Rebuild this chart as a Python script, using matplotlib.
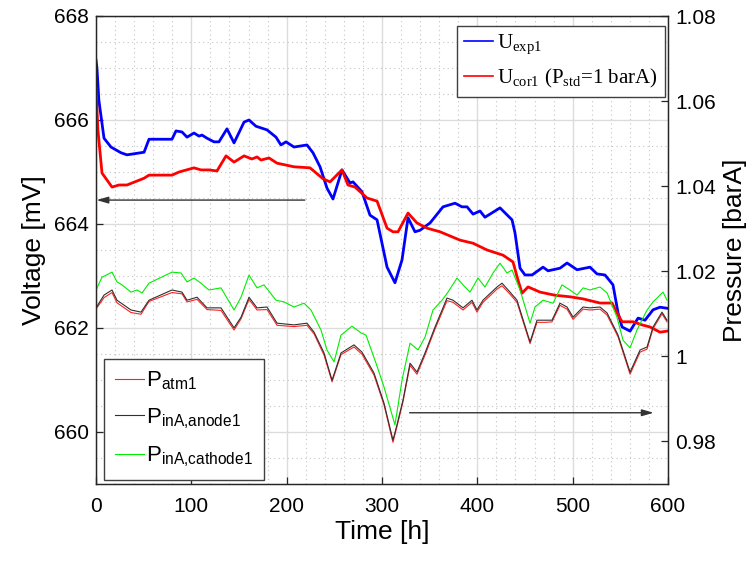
import numpy as np
import matplotlib
matplotlib.use("Agg")
import matplotlib.pyplot as plt
from matplotlib.ticker import MultipleLocator

# ---------------- data ----------------
t_exp = [0, 1, 3, 8.4, 15.7, 26.2, 32.5, 50.4, 55.6, 79.7, 83.9, 90.2, 95.5, 102.8, 108, 111.2,
         116.4, 123.8, 129, 137.4, 144.8, 155.3, 160.5, 167.8, 179.4, 188.8, 194, 199.3, 207.7,
         221.3, 227.6, 235, 242.3, 248.6, 258, 266.4, 269.6, 279, 287.4, 294.8, 305.3, 313.6,
         321, 327.3, 334.6, 339.9, 350.4, 364, 376.6, 383.9, 389.2, 395.5, 402.8, 408, 423.8,
         436.4, 439.5, 444.8, 450, 457.4, 468.9, 474.2, 486.7, 494.1, 504.6, 518.2, 525.5,
         533.9, 542.3, 547.6, 551.8, 560.2, 568.6, 575.9, 584.3, 591.6, 599]
U_exp1 = [667.15, 667.0, 666.38, 665.65, 665.48, 665.37, 665.33, 665.38, 665.63, 665.63, 665.79,
          665.77, 665.67, 665.75, 665.69, 665.71, 665.65, 665.58, 665.58, 665.83, 665.56, 665.96,
          666.0, 665.88, 665.81, 665.67, 665.52, 665.58, 665.48, 665.52, 665.37, 665.10, 664.69,
          664.48, 665.04, 664.79, 664.81, 664.62, 664.17, 664.08, 663.17, 662.87, 663.31, 664.12,
          663.85, 663.88, 664.02, 664.33, 664.40, 664.33, 664.33, 664.19, 664.25, 664.13, 664.31,
          664.08, 663.83, 663.15, 663.02, 663.02, 663.17, 663.10, 663.15, 663.25, 663.12, 663.17,
          663.04, 663.02, 662.83, 662.29, 662.02, 661.94, 662.19, 662.15, 662.35, 662.40, 662.38]

t_cor = [0, 2, 6.3, 16.8, 24.1, 32.5, 50.4, 55.6, 79.7, 87.1, 102.8, 110.1, 118.5, 126.9, 136.4,
         144.8, 155.3, 163.6, 168.9, 173.1, 181.5, 189.9, 207.7, 224.5, 238.1, 245.5, 258, 264.3,
         271.7, 284.3, 294.8, 305.3, 311.5, 316.8, 327.3, 336.7, 347.2, 360.9, 381.8, 395.5,
         410.2, 427, 437.4, 442.7, 446.9, 453.2, 465.8, 481.5, 497.2, 510.9, 528.7, 541.3, 546.5,
         551.8, 563.3, 572.8, 581.1, 591.6, 599]
U_cor1 = [666.62, 665.81, 664.98, 664.71, 664.75, 664.75, 664.88, 664.94, 664.94, 665.0, 665.08,
          665.04, 665.04, 665.02, 665.31, 665.19, 665.31, 665.25, 665.29, 665.23, 665.27, 665.17,
          665.10, 665.08, 664.87, 664.81, 665.04, 664.75, 664.71, 664.50, 664.44, 663.92, 663.85,
          663.85, 664.21, 664.02, 663.92, 663.85, 663.69, 663.63, 663.50, 663.40, 663.27, 662.92,
          662.67, 662.79, 662.69, 662.63, 662.60, 662.56, 662.48, 662.48, 662.29, 662.12, 662.12,
          662.06, 662.02, 661.92, 661.94]

t_cath = [0, 6.3, 16.8, 22, 27.3, 36.7, 43, 48.3, 55.6, 79.7, 89.2, 95.5, 102.8, 110.1, 118.5,
          131.1, 144.8, 152.1, 160.5, 168.9, 176.2, 188.8, 197.2, 207.7, 218.2, 225.5, 236,
          242.3, 249.7, 257, 268.5, 278, 283.2, 293.7, 302.1, 313.6, 321, 329.4, 337.8, 345.1,
          353.5, 363, 369.2, 378.7, 385, 392.3, 400.7, 408, 416.5, 423.8, 431.1, 436.4, 444.8,
          455.3, 460.5, 468.9, 479.4, 488.8, 497.2, 504.6, 510.9, 518.2, 528.7, 536.1, 546.5,
          552.8, 560.2, 567.5, 578, 584.3, 594.8, 599]
P_cathode1 = [1.0156, 1.0186, 1.0198, 1.0175, 1.0168, 1.0151, 1.0156, 1.0149, 1.0172, 1.0198,
              1.0196, 1.0175, 1.0184, 1.0172, 1.0156, 1.0161, 1.0109, 1.0139, 1.0191, 1.0161,
              1.0168, 1.0132, 1.0128, 1.0116, 1.0125, 1.0109, 1.0062, 1.0015, 0.9987, 1.0050,
              1.0071, 1.0055, 1.0050, 0.9984, 0.9928, 0.9839, 0.9944, 1.0031, 1.0015, 1.0045,
              1.0109, 1.0132, 1.0151, 1.0184, 1.0168, 1.0151, 1.0184, 1.0163, 1.0196, 1.0219,
              1.0196, 1.0203, 1.0156, 1.0078, 1.0116, 1.0132, 1.0125, 1.0168, 1.0156, 1.0144,
              1.0161, 1.0156, 1.0163, 1.0149, 1.0092, 1.0038, 1.0020, 1.0062, 1.0109, 1.0128,
              1.0151, 1.0132]

t_anode = [0, 8.4, 16.8, 22, 36.7, 47.2, 55.6, 79.7, 90.2, 95.5, 106, 116.4, 131.1, 144.8, 152.1,
           160.5, 168.9, 179.4, 189.9, 207.7, 221.3, 228.7, 239.2, 247.6, 257, 270.6, 279, 291.6,
           302.1, 311.5, 315.7, 322, 329.4, 336.7, 345.1, 355.6, 368.2, 374.5, 385, 394.4, 399.6,
           405.9, 420.6, 425.9, 434.3, 441.6, 455.3, 462.6, 471, 478.3, 486.7, 494.1, 500.4,
           510.9, 518.2, 528.7, 536.1, 547.6, 560.2, 570.7, 578, 584.3, 593.7, 599]
P_anode1 = [1.0114, 1.0144, 1.0156, 1.0132, 1.0109, 1.0104, 1.0132, 1.0156, 1.0151, 1.0132,
            1.0139, 1.0114, 1.0114, 1.0067, 1.0092, 1.0139, 1.0114, 1.0116, 1.0078, 1.0074,
            1.0078, 1.0057, 1.0008, 0.9944, 1.0008, 1.0027, 1.0010, 0.9961, 0.9890, 0.9803,
            0.9839, 0.9897, 0.9984, 0.9963, 1.0008, 1.0069, 1.0137, 1.0132, 1.0114, 1.0132,
            1.0109, 1.0132, 1.0163, 1.0172, 1.0151, 1.0132, 1.0034, 1.0085, 1.0085, 1.0085,
            1.0125, 1.0116, 1.0092, 1.0116, 1.0114, 1.0116, 1.0102, 1.0050, 0.9963, 1.0015,
            1.0022, 1.0069, 1.0104, 1.0085]
P_atm1 = [1.0111, 1.0138, 1.0150, 1.0126, 1.0103, 1.0099, 1.0129, 1.0150, 1.0147, 1.0128,
          1.0134, 1.0110, 1.0108, 1.0062, 1.0088, 1.0134, 1.0109, 1.0110, 1.0073, 1.0070,
          1.0073, 1.0053, 1.0003, 0.9940, 1.0004, 1.0022, 1.0005, 0.9956, 0.9886, 0.9798,
          0.9835, 0.9893, 0.9979, 0.9958, 1.0003, 1.0064, 1.0131, 1.0127, 1.0109, 1.0127,
          1.0104, 1.0127, 1.0158, 1.0166, 1.0146, 1.0127, 1.0030, 1.0080, 1.0080, 1.0081,
          1.0120, 1.0111, 1.0087, 1.0111, 1.0109, 1.0111, 1.0097, 1.0046, 0.9958, 1.0010,
          1.0017, 1.0065, 1.0100, 1.0081]

x_ticks = [0, 100, 200, 300, 400, 500, 600]
v_ticks = [660, 662, 664, 666, 668]
p_ticks = [0.98, 1.0, 1.02, 1.04, 1.06, 1.08]
p_ticklabels = ["0.98", "1", "1.02", "1.04", "1.06", "1.08"]

# arrows (data coordinates)
arrow_left = ((219, 664.46), (0.5, 664.46))
arrow_right = ((329, 660.37), (585, 660.37))

# ---------------- plot ----------------
plt.rcParams['font.family'] = ['Liberation Sans', 'DejaVu Sans']
plt.rcParams['axes.linewidth'] = 1.0

fig = plt.figure(figsize=(7.55, 5.61), dpi=100)
ax1 = fig.add_axes([96/755, (561-484)/561, 572/755, 468/561])
ax2 = ax1.twinx()

ax1.set_xlim(0, 600)
ax1.set_ylim(659, 668)
ax2.set_ylim(0.97, 1.08)

ax1.set_xticks(x_ticks)
ax1.set_yticks(v_ticks)
ax1.xaxis.set_minor_locator(MultipleLocator(20))
ax1.yaxis.set_minor_locator(MultipleLocator(0.5))
ax2.set_yticks(p_ticks)
ax2.set_yticklabels(p_ticklabels)

ax1.grid(True, which='major', color='#dcdcdc', linestyle='-', linewidth=1.0)
ax1.grid(True, which='minor', color='#c4c4c4', linestyle=(0, (1, 3)), linewidth=0.8)
ax1.set_axisbelow(True)

spine_c = '#262626'
for ax in (ax1, ax2):
    for s in ax.spines.values():
        s.set_color(spine_c)
        s.set_linewidth(0.9)

ax1.tick_params(axis='both', which='major', direction='in', length=5, width=0.9,
                labelsize=15, colors=spine_c, labelcolor='black')
ax1.tick_params(axis='x', which='major', pad=9)
ax1.tick_params(axis='y', which='major', pad=5)
ax1.tick_params(axis='both', which='minor', length=0)
ax2.tick_params(axis='y', which='major', direction='in', length=5, width=0.9,
                labelsize=15, colors=spine_c, labelcolor='black', pad=5)

la1, = ax1.plot(t_exp, U_exp1, color='#0000ff', lw=2.0, label=r'U$_{\mathregular{exp1}}$')
la2, = ax1.plot(t_cor, U_cor1, color='#ff0000', lw=2.0,
                label=r'U$_{\mathregular{cor1}}$ (P$_{\mathregular{std}}$=1 barA)')

lb1, = ax2.plot(t_anode, P_atm1, color='#ff2020', lw=0.8, label=r'P$_{\mathregular{atm1}}$')
lb2, = ax2.plot(t_anode, P_anode1, color='#303030', lw=0.8,
                label=r'P$_{\mathregular{inA{,}anode1}}$')
lb3, = ax2.plot(t_cath, P_cathode1, color='#00ee00', lw=0.8,
                label=r'P$_{\mathregular{inA{,}cathode1}}$')

ax1.annotate('', xy=arrow_left[1], xytext=arrow_left[0],
             arrowprops=dict(arrowstyle='-|>,head_length=0.7,head_width=0.2', color='#333333', lw=1.0,
                             shrinkA=0, shrinkB=0))
ax1.annotate('', xy=arrow_right[1], xytext=arrow_right[0],
             arrowprops=dict(arrowstyle='-|>,head_length=0.7,head_width=0.2', color='#333333', lw=1.0,
                             shrinkA=0, shrinkB=0))

ax1.set_xlabel('Time [h]', fontsize=19, labelpad=3)
ax1.set_ylabel('Voltage [mV]', fontsize=19, labelpad=6)
ax2.set_ylabel('Pressure [barA]', fontsize=19, labelpad=5)

leg1 = ax2.legend(handles=[la1, la2], loc='upper right', bbox_to_anchor=(0.995, 0.979),
                  borderaxespad=0, prop={'family': ['Liberation Serif', 'DejaVu Serif'], 'size': 15},
                  handlelength=1.4, handletextpad=0.2, labelspacing=0.45, borderpad=0.35,
                  fancybox=False, framealpha=1, edgecolor='#404040')
leg1.get_frame().set_linewidth(1.0)
for ln in leg1.get_lines():
    ln.set_linewidth(1.2)
leg2 = ax2.legend(handles=[lb1, lb2, lb3], loc='lower left', bbox_to_anchor=(0.014, 0.0085),
                  borderaxespad=0, prop={'size': 16},
                  handlelength=1.3, handletextpad=0.1, labelspacing=0.62, borderpad=0.5,
                  fancybox=False, framealpha=1, edgecolor='#404040')
leg2.get_frame().set_linewidth(1.0)
ax2.add_artist(leg1)

fig.savefig('out.png', dpi=100, facecolor='white')
